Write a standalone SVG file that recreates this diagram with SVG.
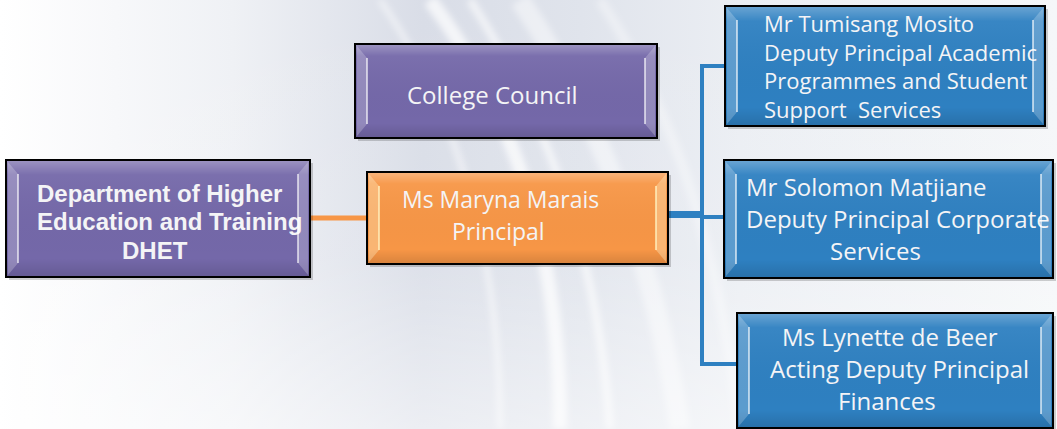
<svg xmlns="http://www.w3.org/2000/svg" width="1057" height="429" viewBox="0 0 1057 429">
  <defs>
    <linearGradient id="bg" x1="0" y1="0" x2="1" y2="0">
      <stop offset="0" stop-color="#ffffff"/>
      <stop offset="0.22" stop-color="#eff1f5"/>
      <stop offset="0.4" stop-color="#d9dde7"/>
      <stop offset="0.55" stop-color="#e0e4ec"/>
      <stop offset="0.7" stop-color="#ebeef3"/>
      <stop offset="1" stop-color="#f5f7f9"/>
    </linearGradient>
    <linearGradient id="bgFade" x1="0" y1="0" x2="0" y2="1">
      <stop offset="0" stop-color="#ffffff" stop-opacity="0"/>
      <stop offset="0.6" stop-color="#ffffff" stop-opacity="0.1"/>
      <stop offset="1" stop-color="#ffffff" stop-opacity="0.5"/>
    </linearGradient>
    <linearGradient id="gloss" x1="0" y1="0" x2="0" y2="1">
      <stop offset="0" stop-color="#ffffff" stop-opacity="0.28"/>
      <stop offset="0.12" stop-color="#ffffff" stop-opacity="0.05"/>
      <stop offset="0.85" stop-color="#000000" stop-opacity="0"/>
      <stop offset="1" stop-color="#000000" stop-opacity="0.12"/>
    </linearGradient>
    <filter id="soft" x="-10%" y="-10%" width="120%" height="120%">
      <feGaussianBlur stdDeviation="3"/>
    </filter>
    <style>
      .body { stroke: #000; stroke-width: 2; }
      .purple .body { fill: #7468a9; }
      .orange .body { fill: #f79646; }
      .blue .body { fill: #2e80c1; }
      .shadow { fill: #000; opacity: 0.18; }
      .gloss { fill: url(#gloss); }
      .bevel { fill: #ffffff; opacity: 0.22; }
      .hl { fill: none; stroke: #ffffff; stroke-width: 1.6; opacity: 0.75; }
      .orange .hl { stroke: #fff2c0; opacity: 0.9; }
      .orange .bevel { fill: #fff0c8; opacity: 0.35; }
      text { fill: #f4f4f6; font-family: "Open Sans", Lato, sans-serif; font-size: 23px; }
      #college-council text { font-size: 24px; }
      .blue text { font-size: 24px; }
      #dp-academic text { font-size: 22px; }
      .bold { font-family: "Liberation Sans", Arial, sans-serif; font-weight: bold; font-size: 24px; }
      .orangeLink { stroke: #f79646; stroke-width: 5; fill: none; }
      .blueLink { stroke: #2e80c1; stroke-width: 4; fill: none; }
    </style>
  </defs>

  <!-- backdrop with soft light streaks -->
  <rect x="0" y="0" width="1057" height="429" fill="url(#bg)"/>
  <g fill="none" stroke="#ffffff" filter="url(#soft)">
    <path d="M430 0 C520 120 560 260 560 429" stroke-width="14" opacity="0.7"/>
    <path d="M470 0 C560 140 600 280 610 429" stroke-width="8" opacity="0.6"/>
    <path d="M520 0 C620 150 660 300 680 429" stroke-width="20" opacity="0.45"/>
    <path d="M380 0 C470 130 500 280 500 429" stroke-width="6" opacity="0.5"/>
    <path d="M600 0 C680 120 720 260 740 429" stroke-width="10" opacity="0.35"/>
  </g>
  <rect x="0" y="0" width="1057" height="429" fill="url(#bgFade)"/>

  <!-- connectors -->
  <g id="connectors">
    <path class="orangeLink" d="M310 218 H367"/>
    <path class="blueLink" d="M668 213 H702"/>
    <path class="blueLink" d="M668 216 H702"/>
    <path class="blueLink" d="M702 217 H725"/>
    <path class="blueLink" d="M725 66 H702 V364 H737"/>
  </g>

  <!-- Department of Higher Education and Training -->
  <g id="dhet" class="node purple">
    <rect class="shadow" x="9" y="163" width="304" height="117"/>
    <rect class="body" x="6" y="160" width="304" height="117"/>
    <rect class="gloss" x="7" y="161" width="302" height="115"/>
    <text class="bold" x="37" y="202">Department of Higher</text>
    <text class="bold" x="37" y="230">Education and Training</text>
    <text class="bold" x="122" y="259">DHET</text>
    <path class="bevel" d="M8 162 L18 174 V263 L8 275 Z M308 162 L298 174 V263 L308 275 Z"/>
    <path class="hl" d="M18 174 V263 M298 174 V263"/>
  </g>

  <!-- College Council -->
  <g id="college-council" class="node purple">
    <rect class="shadow" x="358" y="47" width="302" height="94"/>
    <rect class="body" x="355" y="44" width="302" height="94"/>
    <rect class="gloss" x="356" y="45" width="300" height="92"/>
    <path class="bevel" d="M357 46 L367 58 V124 L357 136 Z M655 46 L645 58 V124 L655 136 Z"/>
    <path class="hl" d="M367 58 V124 M645 58 V124"/>
    <text x="407" y="104">College Council</text>
  </g>

  <!-- Principal -->
  <g id="principal" class="node orange">
    <rect class="shadow" x="370" y="175" width="301" height="92"/>
    <rect class="body" x="367" y="172" width="301" height="92"/>
    <rect class="gloss" x="368" y="173" width="299" height="90"/>
    <path class="bevel" d="M369 174 L379 186 V250 L369 262 Z M666 174 L656 186 V250 L666 262 Z"/>
    <path class="hl" d="M379 186 V250 M656 186 V250"/>
    <text x="402" y="208">Ms Maryna Marais</text>
    <text x="452" y="240">Principal</text>
  </g>

  <!-- Deputy Principal: Academic Programmes -->
  <g id="dp-academic" class="node blue">
    <rect class="shadow" x="728" y="9" width="320" height="120"/>
    <rect class="body" x="725" y="6" width="320" height="120"/>
    <rect class="gloss" x="726" y="7" width="318" height="118"/>
    <text x="764" y="32">Mr Tumisang Mosito</text>
    <text x="764" y="61">Deputy Principal Academic</text>
    <text x="764" y="89">Programmes and Student</text>
    <text x="764" y="118" xml:space="preserve">Support  Services</text>
    <path class="bevel" d="M727 8 L737 20 V112 L727 124 Z M1043 8 L1033 20 V112 L1043 124 Z"/>
    <path class="hl" d="M737 20 V112 M1033 20 V112"/>
  </g>

  <!-- Deputy Principal: Corporate Services -->
  <g id="dp-corporate" class="node blue">
    <rect class="shadow" x="727" y="163" width="329" height="118"/>
    <rect class="body" x="724" y="160" width="329" height="118"/>
    <rect class="gloss" x="725" y="161" width="327" height="116"/>
    <text x="746" y="196">Mr Solomon Matjiane</text>
    <text x="746" y="228">Deputy Principal Corporate</text>
    <text x="830" y="260">Services</text>
    <path class="bevel" d="M726 162 L736 174 V264 L726 276 Z M1051 162 L1041 174 V264 L1051 276 Z"/>
    <path class="hl" d="M736 174 V264 M1041 174 V264"/>
  </g>

  <!-- Acting Deputy Principal: Finances -->
  <g id="dp-finances" class="node blue">
    <rect class="shadow" x="740" y="316" width="316" height="115"/>
    <rect class="body" x="737" y="313" width="316" height="115"/>
    <rect class="gloss" x="738" y="314" width="314" height="113"/>
    <text x="782" y="346">Ms Lynette de Beer</text>
    <text x="770" y="378">Acting Deputy Principal</text>
    <text x="838" y="410">Finances</text>
    <path class="bevel" d="M739 315 L749 327 V414 L739 426 Z M1051 315 L1041 327 V414 L1051 426 Z"/>
    <path class="hl" d="M749 327 V414 M1041 327 V414"/>
  </g>
</svg>
